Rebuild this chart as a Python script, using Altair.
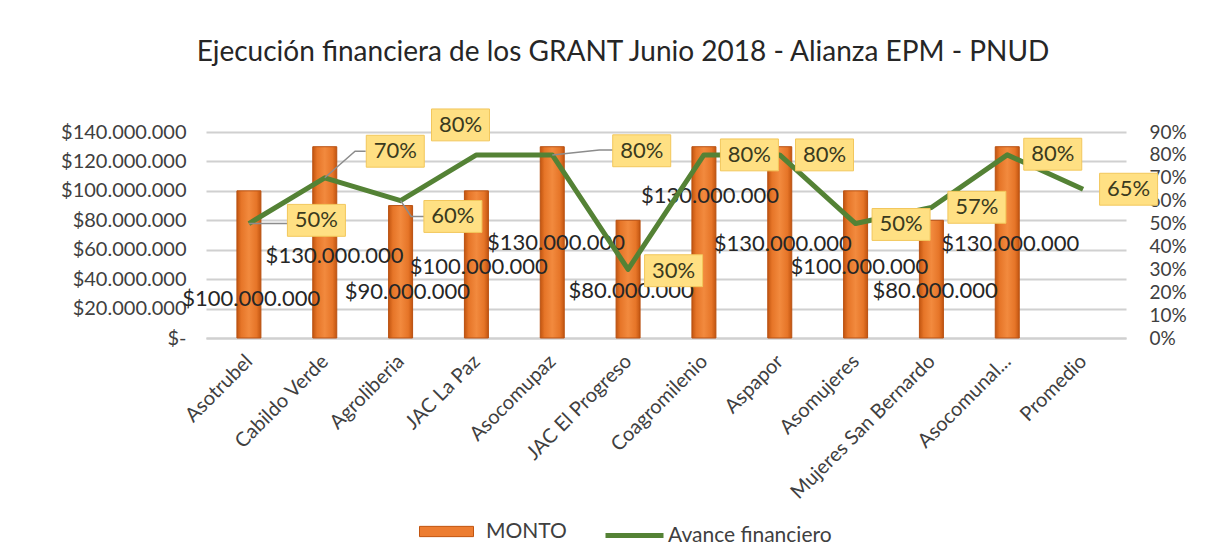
import json
import altair as alt
import pandas as pd

# ---------------- data ----------------
categories = ["Asotrubel", "Cabildo Verde", "Agroliberia", "JAC La Paz", "Asocomupaz",
              "JAC El Progreso", "Coagromilenio", "Aspapor", "Asomujeres",
              "Mujeres San Bernardo", "Asocomunal...", "Promedio"]
monto = [100000000, 130000000, 90000000, 100000000, 130000000, 80000000,
         130000000, 130000000, 100000000, 80000000, 130000000]
avance = [0.50, 0.70, 0.60, 0.80, 0.80, 0.30, 0.80, 0.80, 0.50, 0.57, 0.80, 0.65]

# data-label anchors (in data units: category index / value)
monto_label_x = [0.03, 1.13, 2.09, 3.03, 4.05, 5.04, 6.08, 7.04, 8.05, 9.05, 10.04]
monto_label_y = [26.5e6, 55.7e6, 31.3e6, 48.3e6, 64.6e6, 31.9e6, 96.5e6, 63.9e6, 48.3e6, 31.9e6, 63.9e6]
avance_label_x = [0.89, 1.93, 2.69, 2.79, 5.18, 5.60, 6.60, 7.59, 8.60, 9.60, 10.60, 11.60]
avance_label_y = [0.514, 0.816, 0.531, 0.931, 0.818, 0.294, 0.80, 0.80, 0.496, 0.571, 0.803, 0.65]

# leader lines (segment id, category index, value)
leader_seg = ["a", "a", "b", "b", "b", "c", "c", "c", "d", "d", "d"]
leader_x = [0.0, 0.51, 1.0, 1.40, 1.54, 2.0, 2.14, 2.31, 4.0, 4.62, 4.80]
leader_y = [0.50, 0.50, 0.70, 0.816, 0.816, 0.60, 0.531, 0.531, 0.80, 0.821, 0.821]

series = ["MONTO", "Avance financiero"]

# ---------------- tables ----------------
def money(v):
    return "$" + f"{v:,}".replace(",", ".")

bars_df = pd.DataFrame({"i": list(range(len(monto))), "cat": categories[:len(monto)], "monto": monto})
monto_lbl_df = pd.DataFrame({"x": monto_label_x, "y": monto_label_y, "t": [money(v) for v in monto]})
line_df = pd.DataFrame({"i": list(range(len(avance))), "cat": categories, "avance": avance,
                        "serie": series[1]})
avance_lbl_df = pd.DataFrame({"x": avance_label_x, "y": avance_label_y,
                              "t": [f"{round(v * 100)}%" for v in avance]})
leader_df = pd.DataFrame({"seg": leader_seg, "x": leader_x, "y": leader_y,
                          "o": list(range(len(leader_x)))})
legend_df = pd.DataFrame({"serie": [series[0]]})

FONT = "Lato"
TXT = "#404040"
ORANGE = "#ED7D31"
GREEN = "#548235"
GRID = "#D0D0D0"

xscale = alt.Scale(domain=[-0.5, len(categories) - 0.5], nice=False, zero=False)
lscale = alt.Scale(domain=[0, 140000000], nice=False)
rscale = alt.Scale(domain=[0, 0.9], nice=False)

cat_expr = json.dumps(categories) + "[datum.value]"

x_axis = alt.Axis(values=list(range(len(categories))), labelExpr=cat_expr, labelAngle=-45,
                  labelAlign="right", labelBaseline="middle", labelPadding=20,
                  labelOverlap=False, labelBound=False, labelFlush=False, labelLimit=400,
                  ticks=False, grid=False, domain=True, domainColor=GRID, domainWidth=2,
                  title=None, labelFontSize=20, labelColor=TXT, labelFont=FONT)

left_axis = alt.Axis(values=[i * 20000000 for i in range(8)], orient="left",
                     labelExpr="datum.value == 0 ? '$-' : '$' + replace(format(datum.value, ','), regexp(',', 'g'), '.')",
                     ticks=False, domain=False, grid=True, gridColor=GRID, gridWidth=2,
                     title=None, labelFontSize=20, labelColor=TXT, labelFont=FONT, labelPadding=20)

right_axis = alt.Axis(values=[i / 10 for i in range(10)], orient="right", format=".0%",
                      ticks=False, domain=False, grid=False, title=None,
                      labelFontSize=19, labelColor=TXT, labelFont=FONT, labelPadding=23)


def X(field):
    return alt.X(field, type="quantitative", scale=xscale, axis=x_axis)


def YL(field):
    return alt.Y(field, type="quantitative", scale=lscale, axis=left_axis)


def YR(field):
    return alt.Y(field, type="quantitative", scale=rscale, axis=right_axis)


bar_gradient = {
    "gradient": "linear", "x1": 0, "x2": 1, "y1": 0, "y2": 0,
    "stops": [
        {"offset": 0, "color": "#C25510"},
        {"offset": 0.18, "color": "#E67528"},
        {"offset": 0.5, "color": "#F28A3E"},
        {"offset": 0.82, "color": "#E67528"},
        {"offset": 1, "color": "#C25510"},
    ],
}

bars = alt.Chart(bars_df).mark_bar(size=24, fill=bar_gradient, stroke="#B95112", strokeWidth=1).encode(
    x=X("i"), y=YL("monto"),
)

bar_text = alt.Chart(monto_lbl_df).mark_text(font=FONT, fontSize=22, color="#262626").encode(
    x=X("x"), y=YL("y"), text="t:N",
)

# zero-size mark that only carries the MONTO legend entry
monto_legend = alt.Chart(legend_df).mark_rect(strokeWidth=0).encode(
    x=alt.value(0), x2=alt.value(0), y=alt.value(0), y2=alt.value(0),
    fill=alt.Fill("serie:N", scale=alt.Scale(domain=[series[0]], range=[ORANGE]),
                  legend=alt.Legend(orient="none", legendX=213, legendY=372,
                                    direction="horizontal", title=None,
                                    symbolType="M-1,-0.19L1,-0.19L1,0.19L-1,0.19Z",
                                    symbolSize=2916, symbolStrokeColor="#C25510",
                                    symbolStrokeWidth=1, symbolOpacity=1, labelLimit=400,
                                    labelFont=FONT, labelFontSize=21, labelColor=TXT,
                                    labelOffset=12)),
)

left = alt.layer(bars, bar_text, monto_legend)

line = alt.Chart(line_df).mark_line(strokeWidth=5, strokeJoin="round").encode(
    x=X("i"), y=YR("avance"),
    stroke=alt.Stroke("serie:N", scale=alt.Scale(domain=[series[1]], range=[GREEN]),
                      legend=alt.Legend(orient="none", legendX=397, legendY=372,
                                        direction="horizontal", title=None,
                                        symbolType="stroke", symbolSize=3364,
                                        symbolStrokeWidth=5, labelFont=FONT, labelLimit=400,
                                        labelFontSize=21, labelColor=TXT, labelOffset=2)),
)

leaders = alt.Chart(leader_df).mark_line(color="#8C8C8C", strokeWidth=1.5).encode(
    x=X("x"), y=YR("y"), detail="seg:N", order="o:Q",
)

boxes = alt.Chart(avance_lbl_df).mark_point(
    shape="M-1,-0.55L1,-0.55L1,0.55L-1,0.55Z", size=3364, filled=True,
    fill="#FFE083", stroke="#F2C75C", strokeWidth=1, opacity=1,
).encode(x=X("x"), y=YR("y"))

box_text = alt.Chart(avance_lbl_df).mark_text(font=FONT, fontSize=22, color="#3A3A1E").encode(
    x=X("x"), y=YR("y"), text="t:N",
)

right = alt.layer(line, leaders, boxes, box_text)

chart = alt.layer(left, right).resolve_scale(y="independent").properties(
    width=920, height=206, background="white",
    title=alt.Title("Ejecución financiera de los GRANT Junio 2018 - Alianza EPM - PNUD",
                    font=FONT, fontSize=28, fontWeight="normal", color="#262626",
                    offset=40, dx=-43),
    padding={"left": 52, "top": 30, "right": 20, "bottom": 4},
).configure_view(stroke=None)

chart.save("out.html", embed_options={"renderer": "svg", "actions": False})
